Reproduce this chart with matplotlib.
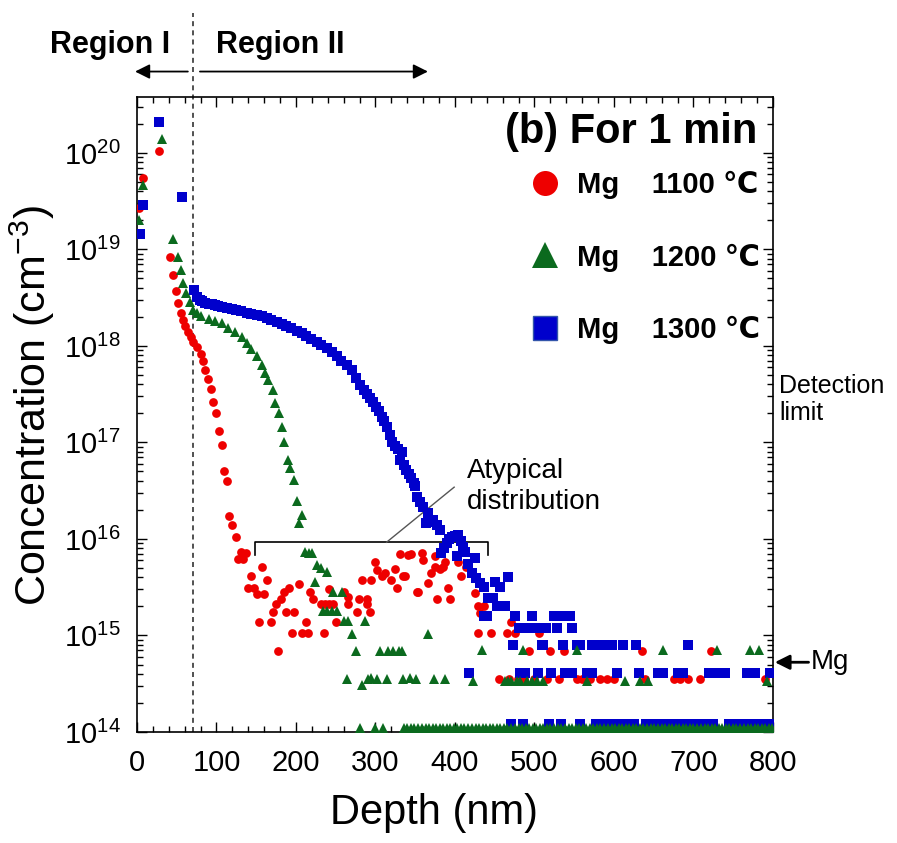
import matplotlib.pyplot as plt
from matplotlib.lines import Line2D
from matplotlib.ticker import MultipleLocator

plt.rcParams['font.family'] = ['Liberation Sans', 'DejaVu Sans']
plt.rcParams['mathtext.fontset'] = 'custom'
plt.rcParams['mathtext.rm'] = 'Liberation Sans'
plt.rcParams['mathtext.it'] = 'Liberation Sans:italic'
plt.rcParams['mathtext.bf'] = 'Liberation Sans:bold'

# ---- data (depth in nm, concentration in cm^-3) ----
# Mg, 1100 C
red_x = [3, 7, 28, 42, 45, 49, 52, 55, 58, 61, 64, 68, 71, 75, 80, 83, 86, 89, 93, 96,
         100, 103, 107, 110, 113, 116, 120, 124, 127, 131, 134, 137, 140, 143, 147, 151,
         154, 157, 160, 164, 168, 171, 175, 178, 181, 185, 187, 191, 195, 198, 204, 207,
         212, 215, 218, 222, 231, 235, 236, 241, 241, 247, 250, 260, 266, 266, 277, 279,
         283, 289, 289, 293, 295, 300, 302, 308, 312, 320, 324, 327, 331, 335, 337, 341,
         345, 352, 354, 358, 360, 366, 370, 375, 375, 378, 381, 385, 387, 391, 394, 404,
         408, 414, 425, 429, 431, 436, 429, 445, 456, 466, 468, 470, 475, 479, 487, 493,
         500, 506, 516, 520, 531, 537, 554, 560, 570, 583, 591, 600, 635, 639, 675, 683,
         693, 708, 722, 790]
red_y = [2.7e19, 5.5e19, 1.05e20, 8.3e18, 5.4e18, 3.7e18, 2.8e18, 2.2e18, 1.86e18, 1.59e18,
         1.41e18, 1.25e18, 1.11e18, 9.8e17, 8.3e17, 7.0e17, 5.6e17, 4.5e17, 3.6e17, 2.6e17,
         2.0e17, 1.3e17, 9.3e16, 5.0e16, 4.0e16, 1.73e16, 1.4e16, 1.05e16, 6.2e15, 7.4e15,
         6.2e15, 7.2e15, 3.1e15, 4.1e15, 3.1e15, 2.7e15, 1.38e15, 5.1e15, 2.7e15, 3.8e15,
         1.38e15, 1.74e15, 2.1e15, 6.9e14, 2.4e15, 2.8e15, 1.74e15, 3.1e15, 1.05e15, 1.74e15,
         3.4e15, 1.05e15, 1.38e15, 1.05e15, 2.8e15, 2.4e15, 2.1e15, 1.05e15, 2.1e15, 2.1e15,
         3.0e15, 2.1e15, 1.38e15, 2.8e15, 2.5e15, 2.1e15, 1.74e15, 2.4e15, 3.8e15, 2.4e15,
         2.1e15, 1.76e15, 3.8e15, 5.8e15, 4.8e15, 4.1e15, 4.4e15, 3.8e15, 4.85e15, 3.1e15,
         7.0e15, 4.1e15, 4.1e15, 6.8e15, 7.0e15, 2.8e15, 2.8e15, 7.2e15, 6.0e15, 3.5e15,
         4.4e15, 5.1e15, 6.6e15, 2.4e15, 4.85e15, 5.1e15, 5.8e15, 3.1e15, 2.4e15, 5.8e15,
         4.1e15, 5.1e15, 2.75e15, 2.0e15, 1.7e15, 2.0e15, 1.05e15, 1.05e15, 3.5e14, 1.05e15,
         3.5e14, 1.38e15, 1.05e15, 3.5e14, 3.5e14, 6.9e14, 3.5e14, 1.05e15, 3.5e14, 6.9e14,
         3.5e14, 6.9e14, 3.5e14, 3.5e14, 3.5e14, 3.5e14, 3.5e14, 3.5e14, 6.9e14, 3.5e14,
         3.5e14, 3.5e14, 3.5e14, 3.5e14, 6.9e14, 3.5e14]
red_floor_x = [462, 474, 489, 571, 650, 745, 792, 799]
red_floor = 1.05e14

# Mg, 1200 C
green_x = [3, 7, 31, 45, 51, 55, 58, 62, 67, 71, 75, 81, 90, 98, 107, 115, 123, 132, 138, 144,
           151, 157, 161, 165, 171, 174, 179, 182, 185, 190, 193, 197, 201, 204, 208, 211,
           216, 220, 224, 226, 231, 234, 239, 239, 245, 246, 251, 258, 260, 264, 266, 271,
           276, 283, 287, 290, 295, 302, 306, 314, 316, 322, 329, 333, 335, 343, 351, 366,
           374, 387, 423, 434, 463, 467, 471, 478, 482, 486, 490, 497, 503, 511, 554, 566,
           614, 633, 643, 662, 730, 771, 783, 792]
green_y = [2.0e19, 4.7e19, 1.4e20, 1.27e19, 8.4e18, 6.1e18, 4.5e18, 3.57e18, 2.88e18, 2.36e18,
           2.18e18, 2.05e18, 1.92e18, 1.83e18, 1.72e18, 1.55e18, 1.39e18, 1.23e18, 1.07e18, 9.2e17,
           7.8e17, 6.4e17, 5.3e17, 4.4e17, 3.5e17, 2.55e17, 2.0e17, 1.46e17, 1.02e17, 6.6e16,
           5.4e16, 4.1e16, 2.5e16, 1.46e16, 1.78e16, 7.4e15, 7.1e15, 7.1e15, 3.6e15, 5.4e15,
           5.0e15, 1.8e15, 4.5e15, 1.8e15, 1.8e15, 2.8e15, 1.8e15, 2.8e15, 1.42e15, 3.5e14,
           1.42e15, 1.04e15, 6.95e14, 3.1e14, 1.42e15, 3.5e14, 3.6e14, 3.5e14, 6.95e14, 3.5e14,
           6.95e14, 6.95e14, 6.95e14, 6.95e14, 3.5e14, 3.6e14, 3.5e14, 1.04e15, 3.5e14, 3.5e14,
           3.4e14, 7.0e14, 3.4e14, 3.4e14, 3.4e14, 3.4e14, 3.4e14, 7.0e14, 3.4e14, 3.4e14,
           3.4e14, 3.4e14, 7.0e14, 3.4e14, 3.4e14, 3.4e14, 3.4e14, 7.0e14, 7.0e14, 7.0e14,
           7.0e14, 3.4e14]
green_floor_x = [280, 299, 310, 336, 340, 345, 349, 354, 358, 363, 367, 372, 376, 381, 385,
                 390, 394, 399, 403, 408, 412, 417, 421, 426, 430, 435, 439, 444, 448, 453,
                 457, 462, 466, 471, 475, 480, 484, 489, 493, 498, 502, 507, 511, 516, 520,
                 525, 529, 534, 538, 543, 547, 552, 556, 561, 565, 570, 574, 579, 583, 588,
                 592, 597, 601, 606, 610, 615, 619, 624, 628, 633, 637, 642, 646, 651, 655,
                 660, 664, 669, 673, 678, 682, 687, 691, 696, 700, 705, 709, 714, 718, 723,
                 727, 732, 736, 741, 745, 750, 754, 759, 763, 768, 772, 777, 781, 786, 790,
                 795, 799]
green_floor = 1.1e14

# Mg, 1300 C
blue_x = [4, 7, 28, 57, 72, 75, 79, 82, 86, 90, 94, 98, 102, 107, 113, 119, 125, 131, 138,
          144, 151, 157, 163, 169, 176, 182, 188, 194, 201, 207, 213, 219, 226, 232, 239,
          245, 251, 257, 264, 270, 276, 281, 285, 289, 293, 297, 301, 304, 308, 311, 314,
          318, 321, 324, 328, 331, 333, 336, 339, 342, 345, 348, 350, 352, 356, 360, 364,
          366, 369, 373, 377, 381, 383, 386, 390, 393, 396, 400, 402, 404, 407, 410, 413,
          416, 421, 425, 427, 431, 436, 442, 448, 450, 453, 457, 459, 463, 467,
          436, 440, 476, 497, 524, 532, 545,
          480, 488, 496, 503, 515, 528, 547,
          473, 509, 511, 536, 553, 557, 572, 584, 591, 597, 612, 628, 693,
          418, 482, 488, 504, 521, 538, 547, 566, 572, 604, 631, 656, 662, 681, 687, 719,
          729, 740, 767, 777, 796]
blue_y = [1.45e19, 2.9e19, 2.1e20, 3.5e19, 3.8e18, 3.2e18, 3.0e18, 2.9e18, 2.8e18, 2.75e18,
          2.7e18, 2.65e18, 2.6e18, 2.52e18, 2.45e18, 2.4e18, 2.34e18, 2.28e18, 2.2e18, 2.15e18,
          2.1e18, 2.02e18, 1.93e18, 1.85e18, 1.78e18, 1.7e18, 1.62e18, 1.52e18, 1.43e18, 1.35e18,
          1.26e18, 1.19e18, 1.11e18, 1.03e18, 9.5e17, 8.6e17, 7.8e17, 7.0e17, 6.3e17, 5.6e17,
          4.6e17, 3.9e17, 3.5e17, 3.2e17, 2.87e17, 2.6e17, 2.35e17, 2.1e17, 1.85e17, 1.65e17,
          1.46e17, 1.2e17, 1.02e17, 9.1e16, 8.6e16, 6.6e16, 8.0e16, 5.8e16, 5.2e16, 4.7e16,
          4.3e16, 3.8e16, 3.5e16, 2.7e16, 2.4e16, 2.16e16, 1.45e16, 1.85e16, 1.5e16, 1.58e16,
          1.4e16, 1.23e16, 7.1e15, 8.0e15, 9.0e15, 1.0e16, 1.06e16, 1.08e16, 6.6e15, 1.1e16,
          9.5e15, 8.3e15, 7.4e15, 5.5e15, 4.4e15, 6.3e15, 3.9e15, 3.5e15, 3.2e15, 2.43e15,
          2.43e15, 3.6e15, 2.02e15, 3.2e15, 2.02e15, 2.02e15, 4.0e15,
          1.6e15, 1.6e15, 1.6e15, 1.6e15, 1.6e15, 1.6e15, 1.6e15,
          1.19e15, 1.19e15, 1.19e15, 1.19e15, 1.19e15, 1.19e15, 1.19e15,
          7.9e14, 7.9e14, 7.9e14, 7.9e14, 7.9e14, 7.9e14, 7.9e14, 7.9e14, 7.9e14, 7.9e14,
          7.9e14, 7.9e14, 7.9e14,
          4.05e14, 4.05e14, 4.05e14, 4.05e14, 4.05e14, 4.05e14, 4.05e14, 4.05e14, 4.05e14,
          4.05e14, 4.05e14, 4.05e14, 4.05e14, 4.05e14, 4.05e14, 4.05e14, 4.05e14, 4.05e14,
          4.05e14, 4.05e14, 4.05e14]
blue_floor_x = [470, 486, 518, 534, 557, 577, 581, 585, 589, 593, 597, 601, 605, 609, 613,
                617, 621, 625, 640, 644, 648, 652, 656, 660, 664, 668, 672, 676, 680, 684,
                688, 692, 696, 700, 704, 708, 712, 716, 720, 724, 745, 749, 753, 757, 761,
                765, 769, 773, 777, 781, 785, 789, 793, 797, 800]
blue_floor = 1.21e14

legend_labels = ['Mg    1100 ℃', 'Mg    1200 ℃', 'Mg    1300 ℃']
red, green, blue = '#EE0000', '#0B6A1E', '#0000CC'

fig = plt.figure(figsize=(8.97, 8.43), dpi=100)
ax = fig.add_axes([0.1527, 0.1317, 0.709, 0.7533])

ax.plot(red_x, red_y, 'o', color=red, ms=6.3, mew=0, zorder=3)
ax.plot(red_floor_x, [red_floor] * len(red_floor_x), 'o', color=red, ms=6.3, mew=0, zorder=3)
ax.plot(blue_x, blue_y, 's', color=blue, ms=6.8, mew=0, zorder=4)
ax.plot(blue_floor_x, [blue_floor] * len(blue_floor_x), 's', color=blue, ms=6.8, mew=0, zorder=4)
ax.plot(green_x, green_y, '^', color=green, ms=7, mew=0, zorder=5)
ax.plot(green_floor_x, [green_floor] * len(green_floor_x), '^', color=green, ms=7, mew=0, zorder=5)

ax.set_yscale('log')
ax.set_xlim(0, 800)
ax.set_ylim(1e14, 3.8e20)
ax.xaxis.set_major_locator(MultipleLocator(100))
ax.xaxis.set_minor_locator(MultipleLocator(20))
ax.tick_params(which='both', direction='in', top=True, right=True, width=1)
ax.tick_params(which='major', length=7, labelsize=21, pad=12)
ax.tick_params(which='minor', length=4)
for s in ax.spines.values():
    s.set_linewidth(1.2)

ax.set_xlabel('Depth (nm)', fontsize=30)
ax.xaxis.set_label_coords(0.467, -0.096)
ax.set_ylabel('Concentration (cm$^{-3}$)', fontsize=31)
ax.yaxis.set_label_coords(-0.125, 0.514)

# region boundary and arrows
ax.axvline(70, ymin=0, ymax=1.132, clip_on=False, color='#333333', lw=1.2, ls=(0, (3, 2.5)))
arrow = dict(arrowstyle='-|>', color='k', lw=1.3, mutation_scale=22, shrinkA=0, shrinkB=0)
ax.annotate('', xy=(-0.003, 1.040), xytext=(0.080, 1.040), xycoords='axes fraction',
            arrowprops=arrow, annotation_clip=False)
ax.annotate('', xy=(0.4575, 1.040), xytext=(0.099, 1.040), xycoords='axes fraction',
            arrowprops=arrow, annotation_clip=False)
ax.text(-0.043, 1.0688, 'Region I', transform=ax.transAxes, ha='center', va='baseline',
        fontsize=22, fontweight='bold')
ax.text(0.2248, 1.0688, 'Region II', transform=ax.transAxes, ha='center', va='baseline',
        fontsize=22, fontweight='bold')

ax.text(0.976, 0.927, '(b) For 1 min', transform=ax.transAxes, ha='right', va='baseline',
        fontsize=30, fontweight='bold')

handles = [Line2D([], [], ls='none', marker='o', ms=18, color=red, mew=0),
           Line2D([], [], ls='none', marker='^', ms=19, color=green, mew=0),
           Line2D([], [], ls='none', marker='s', ms=17, color=blue, mec='#3355AA', mew=1)]
ax.legend(handles, legend_labels, loc='upper left', bbox_to_anchor=(0.6186, 0.884),
          frameon=False, borderpad=0, borderaxespad=0, handlelength=1.0,
          handletextpad=0.59, labelspacing=1.53, prop={'weight': 'bold', 'size': 21})

# atypical distribution bracket
bracket_x = (148, 441)
bracket_y = (6.8e15, 9.25e15)
ax.plot([bracket_x[0], bracket_x[0], bracket_x[1], bracket_x[1]],
        [bracket_y[0], bracket_y[1], bracket_y[1], bracket_y[0]], color='k', lw=1.2, zorder=2)
ax.plot([314, 399], [9.25e15, 3.44e16], color='#555555', lw=1, zorder=2)
ax.text(415, 3.47e16, 'Atypical\ndistribution', fontsize=20, ha='left', va='center',
        linespacing=1.25)

ax.text(1.0094, 0.523, 'Detection\nlimit', transform=ax.transAxes, fontsize=18,
        ha='left', va='center', linespacing=1.15)
ax.annotate('', xy=(1.003, 0.1098), xytext=(1.056, 0.1098), xycoords='axes fraction',
            arrowprops=dict(arrowstyle='-|>', color='k', lw=2, mutation_scale=22,
                            shrinkA=0, shrinkB=0), annotation_clip=False)
ax.text(1.059, 0.1098, 'Mg', transform=ax.transAxes, ha='left', va='center', fontsize=20)

fig.savefig('out.png', dpi=100)
